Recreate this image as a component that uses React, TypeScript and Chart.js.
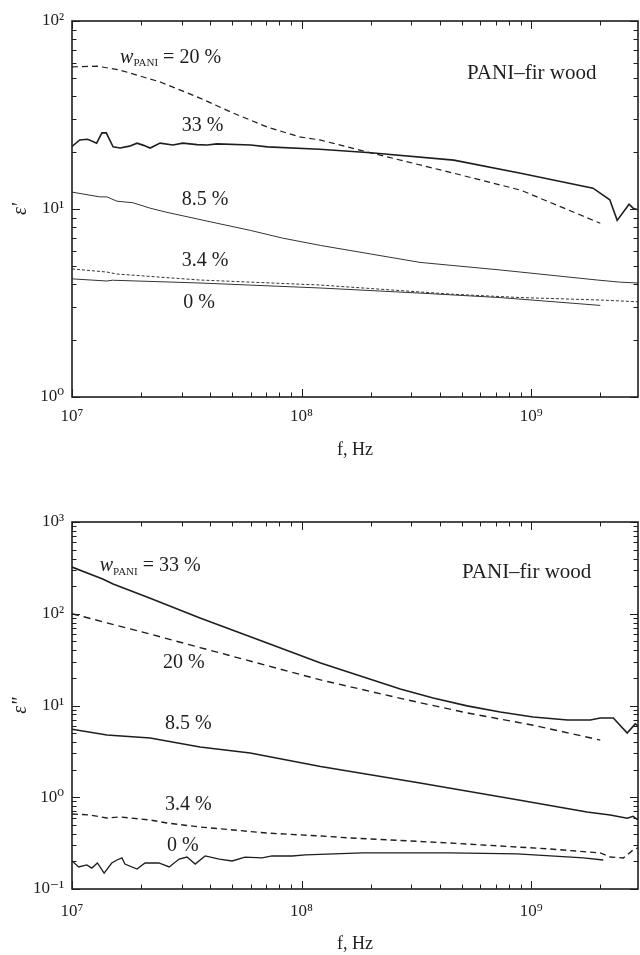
import React, { useEffect, useRef } from 'react';
import { Chart, registerables } from 'chart.js';

Chart.register(...registerables);

const SERIF = '"Liberation Serif", "DejaVu Serif", "Times New Roman", serif';
const INK = '#1e1e1e';

// ---------- tick labels ----------
const freqTickValues = [1e7, 1e8, 1e9];
const freqTickLabels = ['10⁷', '10⁸', '10⁹'];
const topTickValues = [1, 10, 100];
const topTickLabels = ['10⁰', '10¹', '10²'];
const botTickValues = [0.1, 1, 10, 100, 1000];
const botTickLabels = ['10⁻¹', '10⁰', '10¹', '10²', '10³'];

// ---------- top panel: ε' ----------
const topFreq20 = [1e7, 1.29e7, 1.62e7, 1.84e7, 2.42e7, 3.61e7, 5.03e7, 7.08e7, 9.8e7, 1.2e8, 2e8, 4.6e8, 9e8, 2e9];
const topEps20 = [57, 57.5, 54.8, 52.3, 47.4, 38.9, 32.4, 27.3, 24.2, 23.3, 19.9, 15.5, 12.6, 8.4];

const topFreq33 = [1e7, 1.08e7, 1.17e7, 1.28e7, 1.35e7, 1.41e7, 1.51e7, 1.62e7, 1.78e7, 1.92e7, 2.05e7, 2.19e7, 2.42e7, 2.75e7, 3.04e7, 3.5e7, 3.88e7, 4.28e7, 6e7, 7.1e7, 1.2e8, 2e8, 4.6e8, 9e8, 1.86e9, 2.2e9, 2.37e9, 2.67e9, 2.78e9, 2.92e9];
const topEps33 = [21.5, 23.3, 23.5, 22.4, 25.4, 25.4, 21.4, 21.1, 21.6, 22.4, 21.8, 21.1, 22.4, 21.9, 22.4, 22.0, 21.9, 22.2, 21.9, 21.4, 20.8, 19.9, 18.2, 15.5, 12.9, 11.2, 8.7, 10.6, 10.1, 9.9];

const topFreq85 = [1e7, 1.32e7, 1.42e7, 1.57e7, 1.84e7, 2.19e7, 2.59e7, 3.04e7, 4.28e7, 5.97e7, 8.27e7, 1.21e8, 3.28e8, 7.33e8, 1.94e9, 2.45e9, 2.92e9];
const topEps85 = [12.3, 11.6, 11.6, 11.0, 10.8, 10.1, 9.6, 9.2, 8.4, 7.7, 7.0, 6.4, 5.2, 4.74, 4.19, 4.08, 4.04];

const topFreq34 = [1e7, 1.42e7, 1.57e7, 3.61e7, 1.21e8, 4.57e8, 9e8, 2e9, 2.92e9];
const topEps34 = [4.8, 4.62, 4.51, 4.19, 3.94, 3.52, 3.38, 3.28, 3.21];

const topFreq0 = [1e7, 1.42e7, 1.5e7, 3.61e7, 1.21e8, 3.28e8, 7.33e8, 2e9];
const topEps0 = [4.25, 4.14, 4.18, 4.04, 3.8, 3.57, 3.38, 3.07];

// ---------- bottom panel: ε'' ----------
const botFreq33 = [1e7, 1.36e7, 1.51e7, 2.19e7, 3.61e7, 7.08e7, 1.21e8, 2.69e8, 3.74e8, 5.26e8, 7.33e8, 1.02e9, 1.44e9, 1.81e9, 2.0e9, 2.28e9, 2.62e9, 2.84e9, 2.92e9];
const botEps33 = [323, 239, 211, 148, 90, 48, 29, 15.1, 12.1, 9.9, 8.5, 7.5, 6.95, 6.95, 7.3, 7.3, 5.0, 6.3, 6.0];

const botFreq20 = [1e7, 2.19e7, 3.61e7, 7.08e7, 1.21e8, 2.76e8, 5.26e8, 1.02e9, 2.0e9];
const botEps20 = [100, 60, 42.8, 27.2, 19, 11.8, 8.3, 6.1, 4.2];

const botFreq85 = [1e7, 1.42e7, 2.19e7, 3.61e7, 5.97e7, 1.21e8, 3.28e8, 8.95e8, 1.75e9, 2.21e9, 2.62e9, 2.78e9, 2.92e9];
const botEps85 = [5.5, 4.77, 4.43, 3.53, 3.04, 2.16, 1.43, 0.93, 0.69, 0.64, 0.59, 0.62, 0.565];

const botFreq34 = [1e7, 1.2e7, 1.42e7, 1.62e7, 2.19e7, 2.59e7, 3.61e7, 5.03e7, 7.08e7, 1.21e8, 1.63e8, 4.44e8, 1.21e9, 2.0e9, 2.21e9, 2.52e9, 2.78e9, 2.92e9];
const botEps34 = [0.657, 0.64, 0.594, 0.61, 0.565, 0.524, 0.474, 0.44, 0.407, 0.378, 0.36, 0.317, 0.273, 0.247, 0.223, 0.218, 0.266, 0.28];

const botFreq0 = [1e7, 1.07e7, 1.16e7, 1.22e7, 1.29e7, 1.38e7, 1.49e7, 1.57e7, 1.65e7, 1.7e7, 1.92e7, 2.08e7, 2.39e7, 2.65e7, 2.93e7, 3.17e7, 3.44e7, 3.8e7, 4.38e7, 4.98e7, 5.67e7, 6.73e7, 7.44e7, 9.1e7, 1.04e8, 1.84e8, 4.44e8, 8.69e8, 1.69e9, 2.06e9];
const botEps0 = [0.202, 0.174, 0.183, 0.169, 0.192, 0.149, 0.192, 0.207, 0.218, 0.187, 0.165, 0.192, 0.192, 0.174, 0.212, 0.223, 0.187, 0.229, 0.212, 0.202, 0.223, 0.218, 0.229, 0.229, 0.235, 0.247, 0.247, 0.241, 0.218, 0.207];

// ---------- types ----------
type Run = { text: string; italic?: boolean; sub?: boolean };
type Note = { f: number; v: number; size: number; runs: Run[] };
type Series = { label: string; freq: number[]; eps: number[]; width: number; dash: number[]; color: string };
type PanelSpec = {
  height: number;
  padTop: number;
  xHeight: number;
  yMin: number;
  yMax: number;
  yTickValues: number[];
  yTickLabels: string[];
  yTitle: string;
  xTickGap: number;
  xTitlePad: number;
  series: Series[];
  notes: Note[];
};

const X_MIN = 1e7;
const X_MAX = 2.92e9;

function labelFor(values: number[], labels: string[]) {
  return (value: number | string) => {
    const v = Number(value);
    const i = values.findIndex((t) => Math.abs(Math.log10(v) - Math.log10(t)) < 1e-6);
    return i >= 0 ? labels[i] : '';
  };
}

function logTicks(min: number, max: number) {
  const out: { v: number; major: boolean }[] = [];
  for (let e = Math.floor(Math.log10(min)) - 1; e <= Math.ceil(Math.log10(max)); e++) {
    for (let m = 1; m <= 9; m++) {
      const v = m * Math.pow(10, e);
      if (v >= min * (1 - 1e-9) && v <= max * (1 + 1e-9)) out.push({ v, major: m === 1 });
    }
  }
  return out;
}

function framePlugin(notes: Note[]) {
  return {
    id: 'frameAndNotes',
    afterDraw(chart: any) {
      const { ctx, chartArea: a } = chart;
      const xs = chart.scales.x;
      const ys = chart.scales.y;
      ctx.save();
      ctx.strokeStyle = INK;
      ctx.lineWidth = 1;
      ctx.beginPath();
      for (const t of logTicks(xs.min, xs.max)) {
        const p = Math.round(xs.getPixelForValue(t.v)) + 0.5;
        const L = t.major ? 8 : 4.5;
        ctx.moveTo(p, a.bottom);
        ctx.lineTo(p, a.bottom - L);
        ctx.moveTo(p, a.top);
        ctx.lineTo(p, a.top + L);
      }
      for (const t of logTicks(ys.min, ys.max)) {
        const p = Math.round(ys.getPixelForValue(t.v)) + 0.5;
        const L = t.major ? 8 : 4.5;
        ctx.moveTo(a.left, p);
        ctx.lineTo(a.left + L, p);
        ctx.moveTo(a.right, p);
        ctx.lineTo(a.right - L, p);
      }
      ctx.stroke();
      ctx.lineWidth = 1.6;
      ctx.strokeRect(a.left, a.top, a.right - a.left, a.bottom - a.top);

      ctx.fillStyle = INK;
      ctx.textBaseline = 'middle';
      ctx.textAlign = 'left';
      for (const n of notes) {
        let x = xs.getPixelForValue(n.f);
        const y = ys.getPixelForValue(n.v);
        for (const r of n.runs) {
          const size = r.sub ? Math.round(n.size * 0.55) : n.size;
          ctx.font = `${r.italic ? 'italic ' : ''}${size}px ${SERIF}`;
          ctx.fillText(r.text, x, r.sub ? y + n.size * 0.3 : y);
          x += ctx.measureText(r.text).width;
        }
      }
      ctx.restore();
    },
  };
}

function buildConfig(p: PanelSpec): any {
  return {
    type: 'line',
    data: {
      datasets: p.series.map((s) => ({
        label: s.label,
        data: s.freq.map((f, i) => ({ x: f, y: s.eps[i] })),
        borderColor: s.color,
        borderWidth: s.width,
        borderDash: s.dash,
        pointRadius: 0,
        pointHoverRadius: 0,
        fill: false,
        tension: 0,
      })),
    },
    options: {
      responsive: false,
      maintainAspectRatio: false,
      animation: false,
      layout: { autoPadding: false, padding: { left: 0, right: 2, top: p.padTop, bottom: 0 } },
      plugins: { legend: { display: false }, tooltip: { enabled: false } },
      scales: {
        x: {
          type: 'logarithmic',
          min: X_MIN,
          max: X_MAX,
          grid: { display: false, drawTicks: true, tickLength: p.xTickGap },
          border: { display: false },
          ticks: {
            autoSkip: false,
            maxRotation: 0,
            padding: 0,
            color: INK,
            font: { family: SERIF, size: 17 },
            callback: labelFor(freqTickValues, freqTickLabels),
          },
          title: {
            display: true,
            text: 'f, Hz',
            color: INK,
            font: { family: SERIF, size: 18 },
            padding: { top: 0, bottom: p.xTitlePad },
          },
          afterFit: (s: any) => {
            s.height = p.xHeight;
          },
        },
        y: {
          type: 'logarithmic',
          min: p.yMin,
          max: p.yMax,
          grid: { display: false, drawTicks: false },
          border: { display: false },
          ticks: {
            autoSkip: false,
            padding: 8,
            color: INK,
            font: { family: SERIF, size: 17 },
            callback: labelFor(p.yTickValues, p.yTickLabels),
          },
          title: {
            display: true,
            text: p.yTitle,
            color: INK,
            font: { family: SERIF, size: 20, style: 'italic' },
            padding: { top: 9, bottom: 0 },
          },
          afterFit: (s: any) => {
            s.width = 72;
          },
        },
      },
    },
    plugins: [framePlugin(p.notes)],
  };
}

const topPanel: PanelSpec = {
  height: 477,
  padTop: 21,
  xHeight: 80,
  yMin: 1,
  yMax: 100,
  yTickValues: topTickValues,
  yTickLabels: topTickLabels,
  yTitle: "ε'",
  xTickGap: 9,
  xTitlePad: 16,
  series: [
    { label: '20 %', freq: topFreq20, eps: topEps20, width: 1.2, dash: [6, 4], color: INK },
    { label: '33 %', freq: topFreq33, eps: topEps33, width: 1.6, dash: [], color: INK },
    { label: '8.5 %', freq: topFreq85, eps: topEps85, width: 1, dash: [], color: '#333' },
    { label: '3.4 %', freq: topFreq34, eps: topEps34, width: 1, dash: [3, 2], color: '#333' },
    { label: '0 %', freq: topFreq0, eps: topEps0, width: 1, dash: [], color: '#333' },
  ],
  notes: [
    { f: 1.62e7, v: 64, size: 20, runs: [{ text: 'w', italic: true }, { text: 'PANI', sub: true }, { text: ' = 20 %' }] },
    { f: 3.01e7, v: 27.6, size: 20, runs: [{ text: '33 %' }] },
    { f: 3.01e7, v: 11.2, size: 20, runs: [{ text: '8.5 %' }] },
    { f: 3.01e7, v: 5.29, size: 20, runs: [{ text: '3.4 %' }] },
    { f: 3.05e7, v: 3.16, size: 20, runs: [{ text: '0 %' }] },
    { f: 5.26e8, v: 52.8, size: 21, runs: [{ text: 'PANI–fir wood' }] },
  ],
};

const bottomPanel: PanelSpec = {
  height: 478,
  padTop: 45,
  xHeight: 66,
  yMin: 0.1,
  yMax: 1000,
  yTickValues: botTickValues,
  yTickLabels: botTickLabels,
  yTitle: 'ε"',
  xTickGap: 12,
  xTitlePad: 0,
  series: [
    { label: '33 %', freq: botFreq33, eps: botEps33, width: 1.6, dash: [], color: INK },
    { label: '20 %', freq: botFreq20, eps: botEps20, width: 1.4, dash: [7, 5], color: INK },
    { label: '8.5 %', freq: botFreq85, eps: botEps85, width: 1.5, dash: [], color: INK },
    { label: '3.4 %', freq: botFreq34, eps: botEps34, width: 1.4, dash: [6, 4], color: INK },
    { label: '0 %', freq: botFreq0, eps: botEps0, width: 1.3, dash: [], color: INK },
  ],
  notes: [
    { f: 1.32e7, v: 331, size: 20, runs: [{ text: 'w', italic: true }, { text: 'PANI', sub: true }, { text: ' = 33 %' }] },
    { f: 2.49e7, v: 29, size: 20, runs: [{ text: '20 %' }] },
    { f: 2.54e7, v: 6.28, size: 20, runs: [{ text: '8.5 %' }] },
    { f: 2.54e7, v: 0.824, size: 20, runs: [{ text: '3.4 %' }] },
    { f: 2.59e7, v: 0.294, size: 20, runs: [{ text: '0 %' }] },
    { f: 5.0e8, v: 285, size: 21, runs: [{ text: 'PANI–fir wood' }] },
  ],
};

function Panel({ spec, top }: { spec: PanelSpec; top: number }) {
  const ref = useRef<HTMLCanvasElement>(null);
  useEffect(() => {
    if (!ref.current) return;
    const chart = new Chart(ref.current, buildConfig(spec));
    return () => chart.destroy();
  }, [spec]);
  return (
    <canvas
      ref={ref}
      width={640}
      height={spec.height}
      style={{ position: 'absolute', left: 0, top, width: 640, height: spec.height, display: 'block' }}
    />
  );
}

export default function App() {
  return (
    <div style={{ position: 'absolute', left: 0, top: 0, width: 640, height: 955, background: '#fff', overflow: 'hidden' }}>
      <Panel spec={topPanel} top={0} />
      <Panel spec={bottomPanel} top={477} />
    </div>
  );
}
